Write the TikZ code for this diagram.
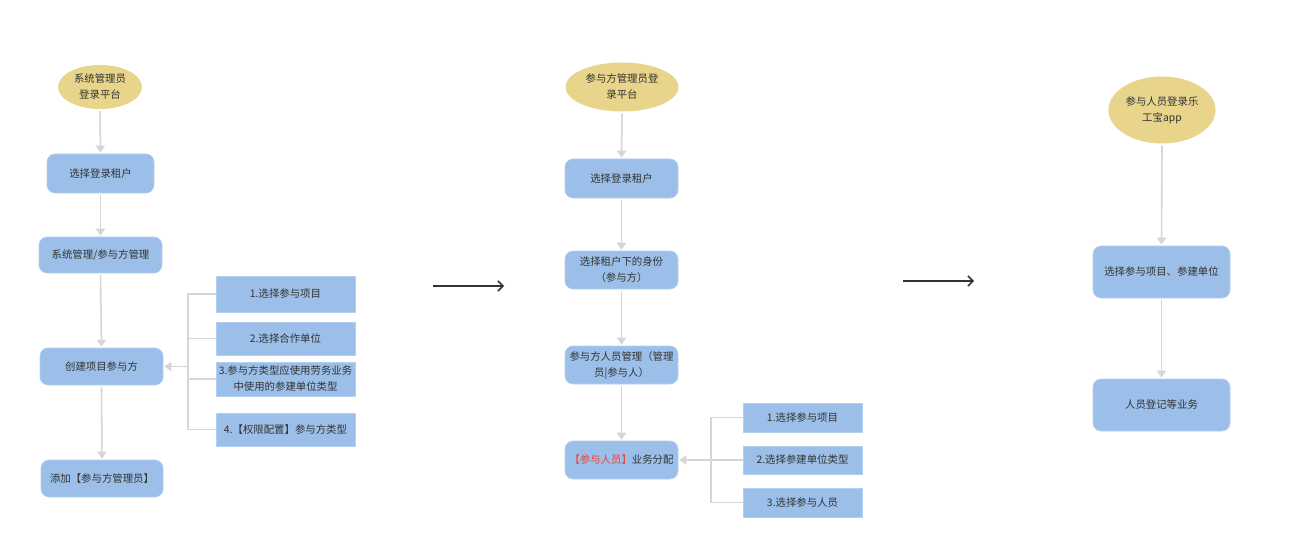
\documentclass[tikz,border=0pt]{standalone}
\usepackage{fontspec}
\newfontfamily\cjk{Noto Sans CJK SC}
\usetikzlibrary{arrows.meta,shapes.geometric}
\definecolor{ellfill}{HTML}{E8D48A}
\definecolor{boxfill}{HTML}{9BBFE8}
\definecolor{boxedge}{HTML}{B4D0F0}
\definecolor{lineg}{HTML}{D6D6D6}
\definecolor{txt}{HTML}{333333}
\definecolor{redtxt}{HTML}{E8453C}
\tikzset{
  base/.style={font=\cjk\fontsize{10.4}{16}\selectfont, text=txt, align=center, inner sep=0pt},
  startell/.style={base, ellipse, fill=ellfill, draw=none},
  rbox/.style={base, rectangle, rounded corners=8pt, fill=boxfill, draw=boxedge, line width=0.6pt},
  sbox/.style={base, rectangle, fill=boxfill, draw=boxedge, line width=0.6pt},
  flow/.style={draw=lineg, line width=1.6pt, -{Triangle[width=9pt,length=7pt]}, shorten >=1pt, shorten <=2pt},
  brk/.style={draw=lineg, line width=1.6pt},
  bigarrow/.style={draw=black!80, line width=1.5pt, -{Straight Barb[length=5pt,width=10pt]}}
}
\begin{document}
\begin{tikzpicture}[x=1pt,y=-1pt]
\useasboundingbox[fill=white] (0,0) rectangle (1297,556);

% ---------- column 1 ----------
\node[startell, minimum width=84pt, minimum height=44pt] (a0) at (100,87) {系统管理员\\登录平台};
\node[rbox, minimum width=107pt, minimum height=39pt] (a1) at (100.5,173.5) {选择登录租户};
\node[rbox, minimum width=123pt, minimum height=36pt] (a2) at (100.5,255) {系统管理/参与方管理};
\node[rbox, minimum width=123pt, minimum height=37pt] (a3) at (101.5,366.5) {创建项目参与方};
\node[rbox, minimum width=122pt, minimum height=37pt] (a4) at (102,478.5) {添加【参与方管理员】};

\node[sbox, minimum width=139pt, minimum height=36pt] (r1) at (285.5,294) {1.选择参与项目};
\node[sbox, minimum width=139pt, minimum height=33pt] (r2) at (285.5,338.5) {2.选择合作单位};
\node[sbox, minimum width=139pt, minimum height=34pt] (r3) at (285.5,379) {3.参与方类型应使用劳务业务\\中使用的参建单位类型};
\node[sbox, minimum width=139pt, minimum height=33pt] (r4) at (285.5,429.5) {4.【权限配置】参与方类型};

\draw[flow] (a0.south) -- (a1.north);
\draw[flow] (a1.south) -- (a2.north);
\draw[flow] (a2.south) -- (a3.north);
\draw[flow] (a3.south) -- (a4.north);

\coordinate (j1) at (188,366.5);
\draw[brk] (r1.west) -| (j1 |- r4.west) -- (r4.west);
\draw[brk] (r2.west) -- (r2.west -| j1);
\draw[brk] (r3.west) -- (r3.west -| j1);
\draw[flow, shorten <=0pt] (j1) -- (a3.east);

% big arrow 1
\coordinate (g1s) at (433,286);
\coordinate (g1e) at (504,286);
\draw[bigarrow] (g1s) -- (g1e);

% ---------- column 2 ----------
\node[startell, minimum width=113pt, minimum height=49pt] (b0) at (622,87) {参与方管理员登\\录平台};
\node[rbox, minimum width=113pt, minimum height=39pt] (b1) at (621.5,178.5) {选择登录租户};
\node[rbox, minimum width=113pt, minimum height=38pt] (b2) at (621.5,270) {选择租户下的身份\\（参与方）};
\node[rbox, minimum width=113pt, minimum height=38pt] (b3) at (621.5,365) {参与方人员管理（管理\\员|参与人）};
\node[rbox, minimum width=113pt, minimum height=38pt] (b4) at (621.5,460) {\textcolor{redtxt}{【参与人员】}业务分配};

\node[sbox, minimum width=119pt, minimum height=29pt] (s1) at (802.5,417.5) {1.选择参与项目};
\node[sbox, minimum width=119pt, minimum height=28pt] (s2) at (802.5,460) {2.选择参建单位类型};
\node[sbox, minimum width=119pt, minimum height=29pt] (s3) at (802.5,502.5) {3.选择参与人员};

\draw[flow] (b0.south) -- (b1.north);
\draw[flow] (b1.south) -- (b2.north);
\draw[flow] (b2.south) -- (b3.north);
\draw[flow] (b3.south) -- (b4.north);

\coordinate (j2) at (711,460);
\draw[brk] (s1.west) -| (j2 |- s3.west) -- (s3.west);
\draw[brk] (s2.west) -- (j2);
\draw[flow, shorten <=0pt] (j2) -- (b4.east);

% big arrow 2
\coordinate (g2s) at (903,281);
\coordinate (g2e) at (974,281);
\draw[bigarrow] (g2s) -- (g2e);

% ---------- column 3 ----------
\node[startell, minimum width=107pt, minimum height=67pt] (c0) at (1162,110) {参与人员登录乐\\工宝app};
\node[rbox, minimum width=137pt, minimum height=52pt] (c1) at (1161.5,272) {选择参与项目、参建单位};
\node[rbox, minimum width=137pt, minimum height=52pt] (c2) at (1161.5,405) {人员登记等业务};

\draw[flow] (c0.south) -- (c1.north);
\draw[flow] (c1.south) -- (c2.north);
\end{tikzpicture}
\end{document}
